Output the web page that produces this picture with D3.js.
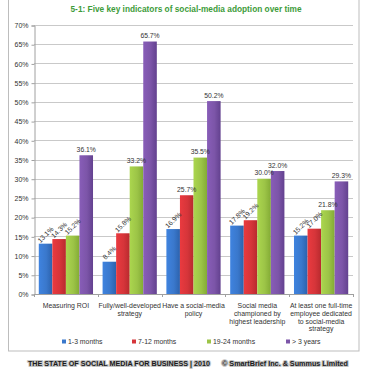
<!DOCTYPE html>
<html>
<head>
<meta charset="utf-8">
<script src="https://cdn.jsdelivr.net/npm/d3@7"></script>
<style>
  body { margin: 0; background: #fff; }
  svg text { font-family: "Liberation Sans", Arial, sans-serif; }
</style>
</head>
<body>
<svg id="chart" width="370" height="370"></svg>
<script>
// data
var categories = ["Measuring ROI", "Fully/well-developed strategy", "Have a social-media policy",
                  "Social media championed by highest leadership",
                  "At least one full-time employee dedicated to social-media strategy"];
var categoryLines = [["Measuring ROI"],
                     ["Fully/well-developed", "strategy"],
                     ["Have a social-media", "policy"],
                     ["Social media", "championed by", "highest leadership"],
                     ["At least one full-time", "employee dedicated", "to social-media", "strategy"]];
var seriesNames = ["1-3 months", "7-12 months", "19-24 months", "> 3 years"];
var months1to3   = [13.1, 8.4, 16.9, 17.8, 15.2];
var months7to12  = [14.3, 15.8, 25.7, 19.2, 17.0];
var months19to24 = [15.2, 33.2, 35.5, 30.0, 21.8];
var years3plus   = [36.1, 65.7, 50.2, 32.0, 29.3];
var yTicks = [0, 5, 10, 15, 20, 25, 30, 35, 40, 45, 50, 55, 60, 65, 70];
var rotatedBelow = 20; // labels under this value are drawn slanted

var series = [months1to3, months7to12, months19to24, years3plus];
var colors = ["#3a78cc", "#d6353a", "#9cc447", "#7c55a8"];
var darker = ["#2c62ad", "#b82a2e", "#83ab35", "#63418f"];

var svg = d3.select("#chart");

// outer frame
svg.append("rect").attr("x", 8.5).attr("y", -1).attr("width", 350.5).attr("height", 352)
   .attr("fill", "#fff").attr("stroke", "#bdbdbd").attr("stroke-width", 1);

// gradients for bars
var defs = svg.append("defs");
colors.forEach(function(c, i){
  var g = defs.append("linearGradient").attr("id", "grad" + i)
     .attr("x1", "0%").attr("x2", "100%").attr("y1", "0%").attr("y2", "0%");
  g.append("stop").attr("offset", "0%").attr("stop-color", d3.color(c).brighter(0.25));
  g.append("stop").attr("offset", "55%").attr("stop-color", c);
  g.append("stop").attr("offset", "100%").attr("stop-color", darker[i]);
});

var plot = {left: 34, right: 353, top: 25, bottom: 294};

var y = d3.scaleLinear().domain([0, 70]).range([plot.bottom, plot.top]);
var x0 = d3.scaleBand().domain(d3.range(categories.length))
           .range([plot.left, plot.right]).paddingInner(0.15).paddingOuter(0.075);
var x1 = d3.scaleBand().domain(d3.range(series.length)).range([0, x0.bandwidth()]);

// title
svg.append("text").attr("x", 186).attr("y", 12).attr("text-anchor", "middle")
   .attr("font-size", "8.3px").attr("font-weight", "bold").attr("fill", "#3d9c3a")
   .text("5-1: Five key indicators of social-media adoption over time");

// gridlines
svg.append("g").selectAll("line").data(yTicks.slice(1)).enter().append("line")
   .attr("x1", plot.left).attr("x2", plot.right)
   .attr("y1", function(d){ return Math.round(y(d)) + 0.5; })
   .attr("y2", function(d){ return Math.round(y(d)) + 0.5; })
   .attr("stroke", "#c9c9c9").attr("stroke-width", 1);

// y axis
var yAxis = svg.append("g").attr("transform", "translate(" + (plot.left + 0.5) + ",0.5)")
   .call(d3.axisLeft(y).tickValues(yTicks).tickSize(3).tickPadding(3)
           .tickFormat(function(d){ return d + "%"; }));
yAxis.select(".domain").attr("stroke", "#a0a0a0");
yAxis.selectAll(".tick line").attr("stroke", "#a0a0a0");
yAxis.selectAll("text").attr("font-size", "7px").attr("fill", "#333")
     .attr("font-family", "Liberation Sans, Arial, sans-serif");

// x axis line and separators
svg.append("line").attr("x1", plot.left).attr("x2", plot.right)
   .attr("y1", plot.bottom + 0.5).attr("y2", plot.bottom + 0.5).attr("stroke", "#a0a0a0");
svg.append("g").selectAll("line").data(d3.range(categories.length + 1)).enter().append("line")
   .attr("x1", function(i){ return Math.round(plot.left + i * x0.step()) + 0.5; })
   .attr("x2", function(i){ return Math.round(plot.left + i * x0.step()) + 0.5; })
   .attr("y1", plot.bottom).attr("y2", plot.bottom + 3).attr("stroke", "#a0a0a0");

// bars
var groups = svg.append("g").selectAll("g").data(categories).enter().append("g")
   .attr("transform", function(d, i){ return "translate(" + x0(i) + ",0)"; });

groups.selectAll("rect")
   .data(function(d, i){ return series.map(function(s, k){ return {k: k, v: s[i]}; }); })
   .enter().append("rect")
   .attr("x", function(d){ return x1(d.k); })
   .attr("width", x1.bandwidth())
   .attr("y", function(d){ return y(d.v); })
   .attr("height", function(d){ return y(0) - y(d.v); })
   .attr("fill", function(d){ return "url(#grad" + d.k + ")"; });

// value labels
groups.selectAll("text.val")
   .data(function(d, i){ return series.map(function(s, k){ return {k: k, v: s[i]}; }); })
   .enter().append("text").attr("class", "val")
   .attr("font-size", "6.8px").attr("fill", "#333")
   .attr("text-anchor", "middle")
   .attr("transform", function(d){
      var cx = x1(d.k) + x1.bandwidth() / 2;
      if (d.v < rotatedBelow) {
        return "translate(" + cx + "," + (y(d.v) - 9) + ") rotate(-45)";
      }
      return "translate(" + cx + "," + (y(d.v) - 3.5) + ")";
   })
   .attr("dy", function(d){ return d.v < rotatedBelow ? "0.35em" : 0; })
   .text(function(d){ return d.v.toFixed(1) + "%"; });

// category labels
svg.append("g").selectAll("text").data(categoryLines).enter().append("text")
   .attr("text-anchor", "middle").attr("font-size", "6.9px").attr("fill", "#333")
   .attr("x", function(d, i){ return x0(i) + x0.bandwidth() / 2; })
   .attr("y", 308)
   .each(function(lines){
      var t = d3.select(this), xx = t.attr("x");
      lines.forEach(function(l, j){
        t.append("tspan").attr("x", xx).attr("dy", j === 0 ? 0 : 7.8).text(l);
      });
   });

// legend
var legendX = [62, 132, 207, 286];
var legend = svg.append("g").selectAll("g").data(seriesNames).enter().append("g")
   .attr("transform", function(d, i){ return "translate(" + legendX[i] + ",344)"; });
legend.append("rect").attr("x", 0).attr("y", -4.5).attr("width", 4).attr("height", 4)
   .attr("fill", function(d, i){ return colors[i]; });
legend.append("text").attr("x", 6).attr("y", 0).attr("font-size", "6.9px").attr("fill", "#333")
   .text(function(d){ return d; });

// footer
var footer = [
  {t: "THE STATE OF SOCIAL MEDIA FOR BUSINESS | 2010", x: 28, w: 182},
  {t: "\u00a9 SmartBrief Inc. & Summus Limited", x: 222, w: 126}
];
svg.append("g").selectAll("text").data(footer).enter().append("text")
   .attr("x", function(d){ return d.x; }).attr("y", 365.5)
   .attr("font-size", "7px").attr("font-weight", "bold")
   .attr("textLength", function(d){ return d.w; }).attr("lengthAdjust", "spacingAndGlyphs")
   .attr("fill", "#1a1a1a").attr("stroke", "#c4c4c4").attr("stroke-width", 2.2)
   .attr("paint-order", "stroke").attr("stroke-linejoin", "round")
   .text(function(d){ return d.t; });
</script>
</body>
</html>
